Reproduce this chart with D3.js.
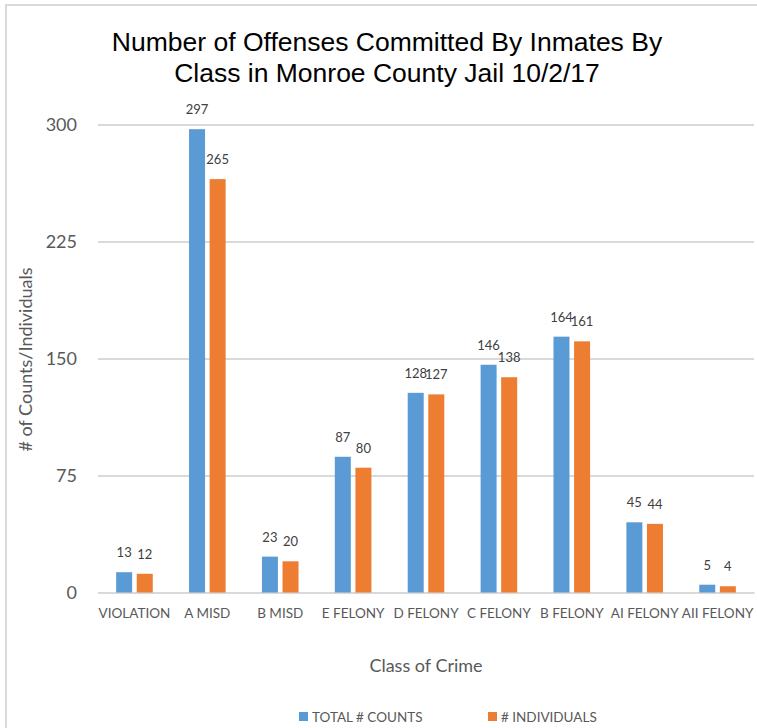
<!DOCTYPE html>
<html>
<head>
<meta charset="utf-8">
<script src="https://cdn.jsdelivr.net/npm/d3@7"></script>
<style>
  html, body { margin: 0; padding: 0; background: #fff; }
  svg { display: block; }
</style>
</head>
<body>
<svg id="chart" width="757" height="728"></svg>
<script>
const categories = ["VIOLATION", "A MISD", "B MISD", "E FELONY", "D FELONY", "C FELONY", "B FELONY", "AI FELONY", "AII FELONY"];
const seriesNames = ["TOTAL # COUNTS", "# INDIVIDUALS"];
const totalCounts = [13, 297, 23, 87, 128, 146, 164, 45, 5];
const individuals = [12, 265, 20, 80, 127, 138, 161, 44, 4];
const yTicks = [0, 75, 150, 225, 300];
const colors = ["#5B9BD5", "#ED7D31"];
const titleLines = ["Number of Offenses Committed By Inmates By", "Class in Monroe County Jail 10/2/17"];

const seriesValues = [totalCounts, individuals];
const data = categories.map((c, i) => ({ cat: c, vals: seriesValues.map((s, k) => ({ k, v: s[i] })) }));

const svg = d3.select("#chart");
const font = "Lato, 'Open Sans', sans-serif";

// chart frame
svg.append("rect").attr("x", 6).attr("y", 5).attr("width", 800).attr("height", 800)
  .attr("fill", "none").attr("stroke", "#D9D9D9").attr("stroke-width", 2);

const plotLeft = 98, plotRight = 754, plotTop = 124.5, plotBottom = 592.5;

const x0 = d3.scaleBand().domain(categories).range([plotLeft, plotRight]).paddingInner(0.498).paddingOuter(0.249);
const x1 = d3.scaleBand().domain(d3.range(seriesNames.length)).range([0, x0.bandwidth()]).paddingInner(0.223);
const y = d3.scaleLinear().domain([0, 300]).range([plotBottom, plotTop]);

// gridlines
const yAxis = d3.axisLeft(y).tickValues(yTicks).tickSize(-(plotRight - plotLeft)).tickPadding(21).tickFormat(d3.format("d"));
const gy = svg.append("g").attr("transform", `translate(${plotLeft},0)`).call(yAxis);
gy.select(".domain").remove();
gy.selectAll(".tick line").attr("stroke", "#D9D9D9").attr("stroke-width", 2);
gy.selectAll(".tick text").attr("fill", "#595959").style("font-family", font).style("font-size", "18px");

// x axis
const xAxis = d3.axisBottom(x0).tickSize(0).tickPadding(16);
const gx = svg.append("g").attr("transform", `translate(0,${plotBottom})`).call(xAxis);
gx.select(".domain").attr("stroke", "#D9D9D9").attr("stroke-width", 2);
gx.selectAll(".tick text").attr("fill", "#595959").style("font-family", font).style("font-size", "13.5px");

// bars
const groups = svg.append("g").selectAll("g").data(data).join("g")
  .attr("transform", d => `translate(${x0(d.cat)},0)`);
groups.selectAll("rect").data(d => d.vals).join("rect")
  .attr("x", d => x1(d.k))
  .attr("width", x1.bandwidth())
  .attr("y", d => y(d.v))
  .attr("height", d => y(0) - y(d.v))
  .attr("fill", d => colors[d.k]);
groups.selectAll("text").data(d => d.vals).join("text")
  .attr("x", d => x1(d.k) + x1.bandwidth() / 2)
  .attr("y", d => y(d.v) - 15)
  .attr("text-anchor", "middle")
  .attr("fill", "#404040")
  .style("font-family", font).style("font-size", "13px")
  .text(d => d.v);

// title
svg.append("text").attr("x", 387).attr("y", 51).attr("text-anchor", "middle")
  .style("font-family", "'Liberation Sans', Arial, sans-serif").style("font-size", "26.5px").attr("fill", "#000")
  .selectAll("tspan").data(titleLines).join("tspan")
  .attr("x", 387).attr("dy", (d, i) => i === 0 ? 0 : 30.5).text(d => d);

// axis titles
svg.append("text").attr("transform", `translate(32,${(plotTop + plotBottom) / 2 + 1}) rotate(-90)`)
  .attr("text-anchor", "middle").attr("fill", "#595959")
  .style("font-family", font).style("font-size", "18px").text("# of Counts/Individuals");
svg.append("text").attr("x", (plotLeft + plotRight) / 2).attr("y", 672).attr("text-anchor", "middle")
  .attr("fill", "#595959").style("font-family", font).style("font-size", "18px").text("Class of Crime");

// legend
const legendX = [299, 488];
const lg = svg.append("g").selectAll("g").data(seriesNames).join("g")
  .attr("transform", (d, i) => `translate(${legendX[i]},712)`);
lg.append("rect").attr("width", 9).attr("height", 9).attr("fill", (d, i) => colors[i]);
lg.append("text").attr("x", 13).attr("y", 9.5).attr("fill", "#595959")
  .style("font-family", font).style("font-size", "13.5px").text(d => d);
</script>
</body>
</html>
